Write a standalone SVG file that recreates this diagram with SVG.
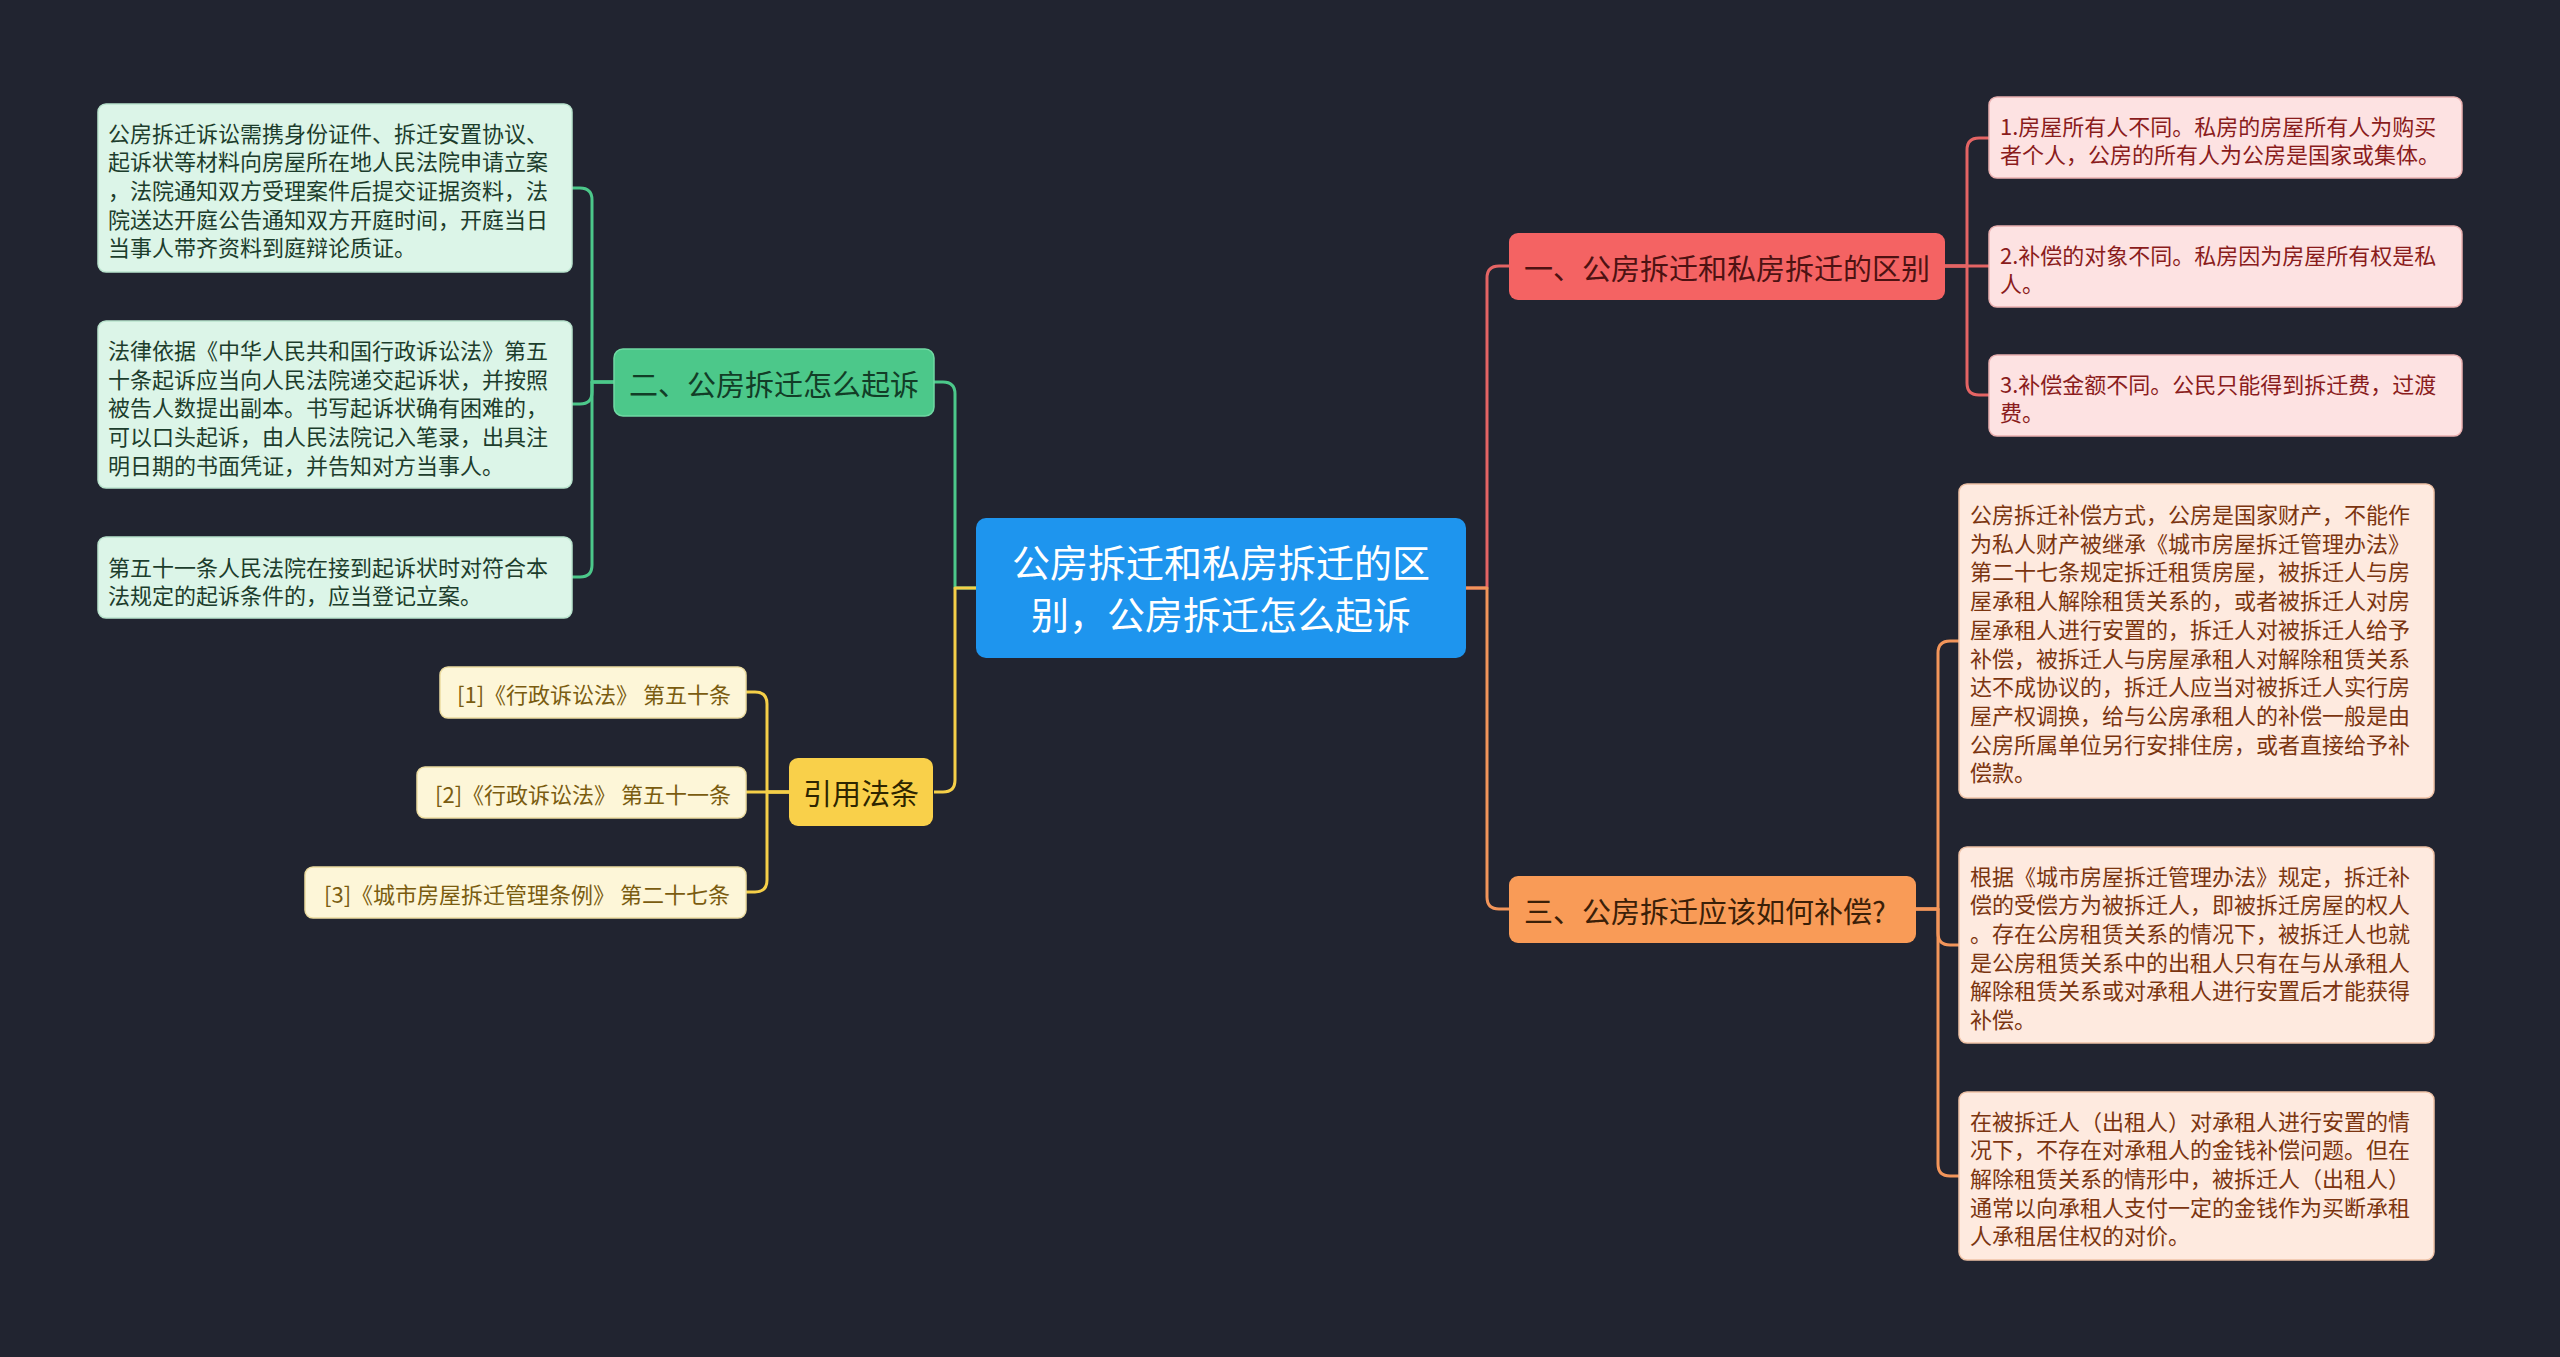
<svg xmlns="http://www.w3.org/2000/svg" width="2560" height="1357" viewBox="0 0 2560 1357">
<style>
text{font-family:"Noto Sans CJK SC","Noto Sans",sans-serif;dominant-baseline:central}
.c{fill:none;stroke-width:3;stroke-linejoin:round}
.cg{stroke:#4cc88a}.cy{stroke:#f5cf48}.cr{stroke:#e46464}.co{stroke:#f2955a}
.leaf text{font-size:22px}
.gl rect{fill:#dcf5e8;stroke:#b9e3cd;stroke-width:1.5}.gl text{fill:#1c3d2c}
.yl rect{fill:#fdf6d8;stroke:#ecdca0;stroke-width:1.5}.yl text{fill:#7a5c10}
.rl rect{fill:#fde2e2;stroke:#eab0b0;stroke-width:1.5}.rl text{fill:#8a1c1c}
.ol rect{fill:#feeadf;stroke:#efc2a6;stroke-width:1.5}.ol text{fill:#7b3510}
.main text{font-size:29px}
</style>
<rect width="2560" height="1357" fill="#212430"/>
<g id="connectors">
<path class="c cg" d="M976 588H955V394Q955 382 943 382H934"/>
<path class="c cy" d="M976 588H955V780Q955 792 943 792H934"/>
<path class="c cr" d="M1466 588H1487V278Q1487 266 1499 266H1509"/>
<path class="c co" d="M1466 588H1487V897Q1487 909 1499 909H1509"/>
<path class="c cg" d="M614 382H592V200Q592 188 580 188H572"/>
<path class="c cg" d="M614 382H592V392Q592 404 580 404H572"/>
<path class="c cg" d="M614 382H592V565Q592 577 580 577H572"/>
<path class="c cy" d="M789 792H767V704Q767 692 755 692H746"/>
<path class="c cy" d="M789 792H746"/>
<path class="c cy" d="M789 792H767V880Q767 892 755 892H746"/>
<path class="c cr" d="M1945 266H1967V150Q1967 138 1979 138H1989"/>
<path class="c cr" d="M1945 266H1989"/>
<path class="c cr" d="M1945 266H1967V383Q1967 395 1979 395H1989"/>
<path class="c co" d="M1916 909H1938V653Q1938 641 1950 641H1959"/>
<path class="c co" d="M1916 909H1938V933Q1938 945 1950 945H1959"/>
<path class="c co" d="M1916 909H1938V1164Q1938 1176 1950 1176H1959"/>
</g>
<g id="center">
<rect x="976" y="518" width="490" height="140" rx="10" fill="#1e95ee"/>
<text x="1221" y="560" font-size="38" fill="#ffffff" text-anchor="middle">公房拆迁和私房拆迁的区</text>
<text x="1221" y="612" font-size="38" fill="#ffffff" text-anchor="middle">别，公房拆迁怎么起诉</text>
</g>
<g id="n-sue" class="main">
<rect x="614" y="349" width="320" height="67" rx="9" fill="#4cc88a" stroke="#6fd8a2" stroke-width="1.5"/>
<text x="774" y="383" fill="#123d27" text-anchor="middle">二、公房拆迁怎么起诉</text>
</g>
<g id="n-law" class="main">
<rect x="789" y="758" width="144" height="68" rx="9" fill="#f9d04a"/>
<text x="861" y="792" fill="#2e2500" text-anchor="middle">引用法条</text>
</g>
<g id="n-diff" class="main">
<rect x="1509" y="233" width="436" height="67" rx="9" fill="#f46363"/>
<text x="1727" y="267" fill="#4d1212" text-anchor="middle">一、公房拆迁和私房拆迁的区别</text>
</g>
<g id="n-comp" class="main">
<rect x="1509" y="876" width="407" height="67" rx="9" fill="#f99b57"/>
<text x="1524" y="910" fill="#3b2008">三、公房拆迁应该如何补偿?</text>
</g>
<g id="g1" class="leaf gl">
<rect x="98" y="104" width="474" height="168" rx="8"/>
<text x="108" y="131.5">公房拆迁诉讼需携身份证件、拆迁安置协议、</text>
<text x="108" y="160.2">起诉状等材料向房屋所在地人民法院申请立案</text>
<text x="108" y="188.9">，法院通知双方受理案件后提交证据资料，法</text>
<text x="108" y="217.6">院送达开庭公告通知双方开庭时间，开庭当日</text>
<text x="108" y="246.3">当事人带齐资料到庭辩论质证。</text>
</g>
<g id="g2" class="leaf gl">
<rect x="98" y="321" width="474" height="167" rx="8"/>
<text x="108" y="349">法律依据《中华人民共和国行政诉讼法》第五</text>
<text x="108" y="377.7">十条起诉应当向人民法院递交起诉状，并按照</text>
<text x="108" y="406.4">被告人数提出副本。书写起诉状确有困难的，</text>
<text x="108" y="435.1">可以口头起诉，由人民法院记入笔录，出具注</text>
<text x="108" y="463.8">明日期的书面凭证，并告知对方当事人。</text>
</g>
<g id="g3" class="leaf gl">
<rect x="98" y="537" width="474" height="81" rx="8"/>
<text x="108" y="565.5">第五十一条人民法院在接到起诉状时对符合本</text>
<text x="108" y="594.2">法规定的起诉条件的，应当登记立案。</text>
</g>
<g id="y1" class="leaf yl">
<rect x="440" y="667" width="306" height="51" rx="8"/>
<text x="594" y="692.5" text-anchor="middle">[1]《行政诉讼法》 第五十条</text>
</g>
<g id="y2" class="leaf yl">
<rect x="417" y="767" width="329" height="51" rx="8"/>
<text x="583" y="792.5" text-anchor="middle">[2]《行政诉讼法》 第五十一条</text>
</g>
<g id="y3" class="leaf yl">
<rect x="305" y="867" width="441" height="51" rx="8"/>
<text x="527" y="892.5" text-anchor="middle">[3]《城市房屋拆迁管理条例》 第二十七条</text>
</g>
<g id="r1" class="leaf rl">
<rect x="1989" y="97" width="473" height="81" rx="8"/>
<text x="2000" y="124.5">1.房屋所有人不同。私房的房屋所有人为购买</text>
<text x="2000" y="153">者个人，公房的所有人为公房是国家或集体。</text>
</g>
<g id="r2" class="leaf rl">
<rect x="1989" y="226" width="473" height="81" rx="8"/>
<text x="2000" y="253.5">2.补偿的对象不同。私房因为房屋所有权是私</text>
<text x="2000" y="282">人。</text>
</g>
<g id="r3" class="leaf rl">
<rect x="1989" y="355" width="473" height="81" rx="8"/>
<text x="2000" y="382.5">3.补偿金额不同。公民只能得到拆迁费，过渡</text>
<text x="2000" y="411">费。</text>
</g>
<g id="o1" class="leaf ol">
<rect x="1959" y="484" width="475" height="314" rx="8"/>
<text x="1970" y="513">公房拆迁补偿方式，公房是国家财产，不能作</text>
<text x="1970" y="541.7">为私人财产被继承《城市房屋拆迁管理办法》</text>
<text x="1970" y="570.4">第二十七条规定拆迁租赁房屋，被拆迁人与房</text>
<text x="1970" y="599.1">屋承租人解除租赁关系的，或者被拆迁人对房</text>
<text x="1970" y="627.8">屋承租人进行安置的，拆迁人对被拆迁人给予</text>
<text x="1970" y="656.5">补偿，被拆迁人与房屋承租人对解除租赁关系</text>
<text x="1970" y="685.2">达不成协议的，拆迁人应当对被拆迁人实行房</text>
<text x="1970" y="713.9">屋产权调换，给与公房承租人的补偿一般是由</text>
<text x="1970" y="742.6">公房所属单位另行安排住房，或者直接给予补</text>
<text x="1970" y="771.3">偿款。</text>
</g>
<g id="o2" class="leaf ol">
<rect x="1959" y="847" width="475" height="196" rx="8"/>
<text x="1970" y="874.5">根据《城市房屋拆迁管理办法》规定，拆迁补</text>
<text x="1970" y="903.2">偿的受偿方为被拆迁人，即被拆迁房屋的权人</text>
<text x="1970" y="931.9">。存在公房租赁关系的情况下，被拆迁人也就</text>
<text x="1970" y="960.6">是公房租赁关系中的出租人只有在与从承租人</text>
<text x="1970" y="989.3">解除租赁关系或对承租人进行安置后才能获得</text>
<text x="1970" y="1018">补偿。</text>
</g>
<g id="o3" class="leaf ol">
<rect x="1959" y="1092" width="475" height="168" rx="8"/>
<text x="1970" y="1119.5">在被拆迁人（出租人）对承租人进行安置的情</text>
<text x="1970" y="1148.2">况下，不存在对承租人的金钱补偿问题。但在</text>
<text x="1970" y="1176.9">解除租赁关系的情形中，被拆迁人（出租人）</text>
<text x="1970" y="1205.6">通常以向承租人支付一定的金钱作为买断承租</text>
<text x="1970" y="1234.3">人承租居住权的对价。</text>
</g>
</svg>
